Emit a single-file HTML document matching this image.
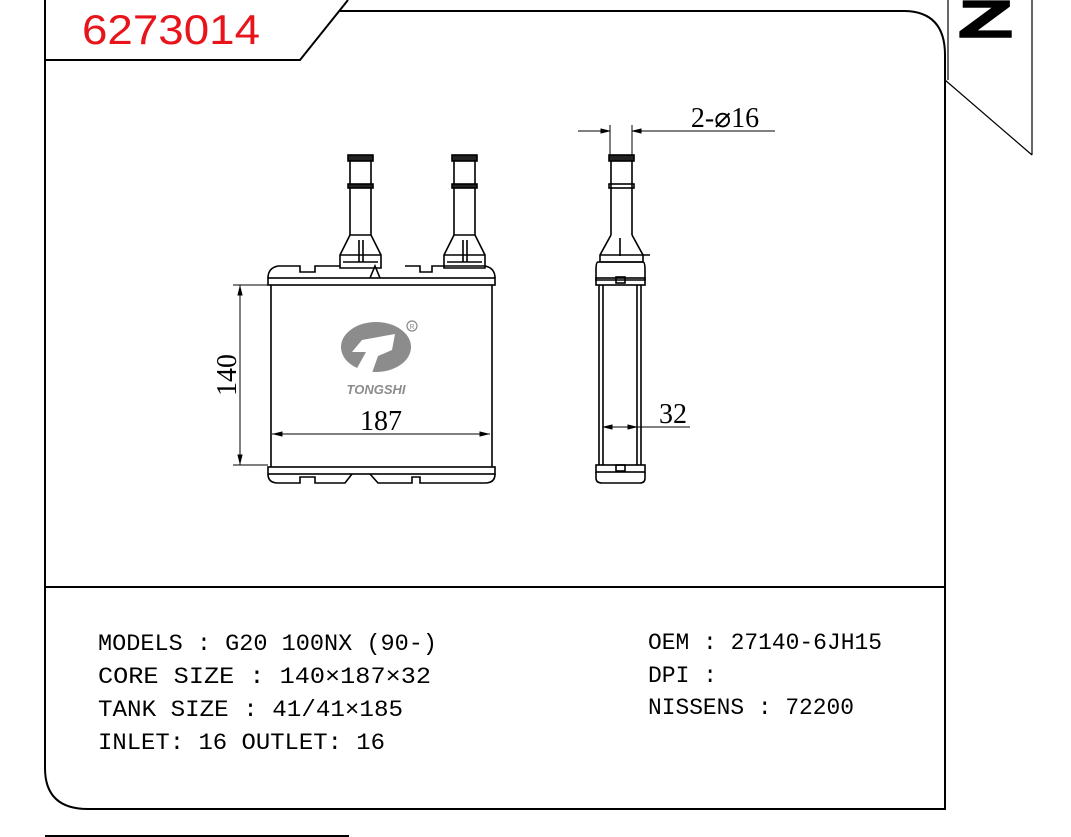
<!DOCTYPE html>
<html><head><style>
body{margin:0;background:#fff;}
svg{display:block}
</style></head><body>
<svg width="1071" height="837" viewBox="0 0 1071 837" xmlns="http://www.w3.org/2000/svg">
<g fill="none" stroke="#000" stroke-width="2">
<path d="M45 0 V768 Q45 809 88 809 H945 V55 Q945 12 905 11 H340"/>
<path d="M45 60 H300 L340 10 L348 0"/>
<path d="M45 587 H945"/>
<path d="M45 836 H349" />
</g>
<g fill="none" stroke="#000" stroke-width="1.2">
<path d="M948 0 V80 M1032 0 V155 M945 80 L1032 155"/>
</g>
<text x="82" y="44" font-family="Liberation Sans, sans-serif" font-size="42" fill="#e8141b" textLength="178" lengthAdjust="spacingAndGlyphs">6273014</text>
<text x="958" y="37" font-family="Liberation Sans, sans-serif" font-weight="bold" font-size="52" fill="#000" textLength="55" lengthAdjust="spacingAndGlyphs" stroke="#000" stroke-width="1.5">Z</text>

<!-- front view -->
<g fill="none" stroke="#000" stroke-width="1.6">
<rect x="268" y="278" width="227" height="7"/>
<rect x="268" y="467" width="227" height="7"/>
<path d="M271 285 V467 M492 285 V467"/>
<path d="M268 278 Q268 268 278 266 H300 V272 H315 V266 H340 M405 266 H420 V272 H432 V266 H485 Q495 268 495 278"/>
<path d="M268 474 Q268 483 278 483 H300 V477 H315 V483 H345 L352 474 M370 474 L378 483 H412 V477 H420 V483 H485 Q495 483 495 474"/>
<path d="M370 278 L375 266 L380 278"/>
<g id="p1">
<path d="M350 157 V235 M371 157 V235"/>
<rect x="348" y="155" width="25" height="6" fill="#222"/>
<rect x="348" y="184" width="25" height="4" fill="#222"/>
<path d="M350 235 L340 255 V268 H381 V255 L371 235 Z"/>
<path d="M340 255 H381 M343 262 H378 M359 240 V262 M363 240 V262"/>
</g>
<use href="#p1" x="104"/>
</g>
<!-- logo -->
<g>
<ellipse cx="376" cy="347" rx="35" ry="25" fill="#8c8c8c"/>
<path d="M362 340 L395 334 L392 350 L378 356 L372 373 L356 370 L366 352 L352 352 Z" fill="#fff"/>
<circle cx="412" cy="326" r="5" fill="none" stroke="#888" stroke-width="1.2"/>
<text x="412" y="329" font-family="Liberation Sans, sans-serif" font-size="7" fill="#888" text-anchor="middle">R</text>
<text x="376" y="394" font-family="Liberation Sans, sans-serif" font-size="13" font-weight="bold" font-style="italic" fill="#8c8c8c" text-anchor="middle">TONGSHI</text>
</g>
<!-- dims front -->
<g stroke="#000" stroke-width="1" fill="#000">
<path d="M233 285 H268 M233 465 H268 M240 285 V465"/>
<path d="M240 287 l-2 8 h4 Z M240 463 l-2 -8 h4 Z"/>
<path d="M272 434 H490"/>
<path d="M274 434 l8 -2 v4 Z M488 434 l-8 -2 v4 Z"/>
</g>
<text x="236" y="375" font-family="Liberation Serif, serif" font-size="28" text-anchor="middle" transform="rotate(-90 236 375)">140</text>
<text x="381" y="430" font-family="Liberation Serif, serif" font-size="28" text-anchor="middle">187</text>

<!-- side view -->
<g fill="none" stroke="#000" stroke-width="1.6">
<path d="M611 157 V235 M632 157 V235"/>
<rect x="609" y="155" width="25" height="6" fill="#222"/>
<rect x="609" y="184" width="25" height="4"/>
<path d="M611 235 L600 255 V262 H643 V255 L632 235"/>
<path d="M600 255 H650 M620 238 V256"/>
<path d="M598 262 H643 Q645 262 645 270 V280 H596 V270 Q596 262 598 262 Z"/>
<rect x="596" y="278" width="49" height="7"/>
<rect x="616" y="277" width="9" height="6"/>
<path d="M599 285 V465 M603 285 V465 M637 285 V465 M641 285 V465"/>
<rect x="596" y="465" width="49" height="7"/>
<path d="M596 472 V478 Q596 483 602 483 H640 Q645 483 645 478 V472"/>
<rect x="616" y="465" width="9" height="6"/>
</g>
<g stroke="#000" stroke-width="1" fill="#000">
<path d="M610 125 V155 M632 125 V155 M578 131 H610 M632 131 H775"/>
<path d="M609 131 l-8 -2 v4 Z M633 131 l8 -2 v4 Z"/>
<path d="M603 427 H690"/>
<path d="M604 427 l8 -2 v4 Z M636 427 l-8 -2 v4 Z"/>
</g>
<text x="725" y="127" font-family="Liberation Serif, serif" font-size="28" text-anchor="middle">2-⌀16</text>
<text x="673" y="423" font-family="Liberation Serif, serif" font-size="28" text-anchor="middle">32</text>

<g font-family="Liberation Mono, monospace" font-size="23" fill="#000">
<text x="98" y="650" textLength="339" lengthAdjust="spacingAndGlyphs">MODELS : G20 100NX (90-)</text>
<text x="98" y="683" textLength="333" lengthAdjust="spacingAndGlyphs">CORE SIZE : 140×187×32</text>
<text x="98" y="716" textLength="305" lengthAdjust="spacingAndGlyphs">TANK SIZE : 41/41×185</text>
<text x="98" y="749" textLength="287" lengthAdjust="spacingAndGlyphs">INLET: 16  OUTLET: 16</text>
<text x="648" y="649" textLength="234" lengthAdjust="spacingAndGlyphs">OEM : 27140-6JH15</text>
<text x="648" y="682">DPI :</text>
<text x="648" y="714" textLength="206" lengthAdjust="spacingAndGlyphs">NISSENS : 72200</text>
</g>
</svg>
</body></html>
